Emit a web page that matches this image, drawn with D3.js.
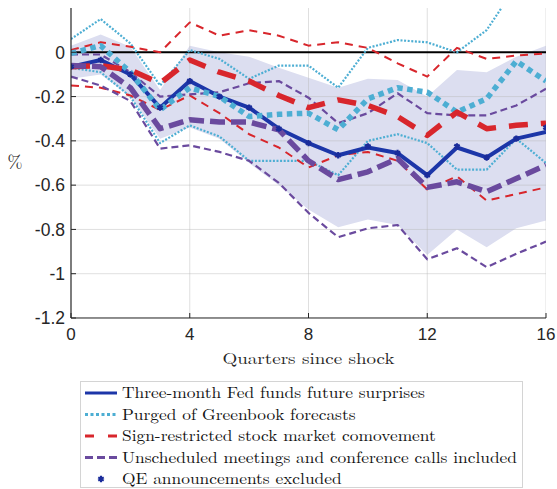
<!DOCTYPE html>
<html>
<head>
<meta charset="utf-8">
<script src="https://cdn.jsdelivr.net/npm/d3@7"></script>
<style>
  body { margin: 0; background: #fff; }
  svg { display: block; }
</style>
</head>
<body>
<svg id="chart"></svg>
<script>
const width = 557;
const height = 489;

// quarters since shock
const quarters = d3.range(0, 17);

// baseline: three-month Fed funds future surprises, with its band
const baseline = [-0.065, -0.035, -0.10, -0.25, -0.13, -0.20, -0.25, -0.345, -0.41, -0.465, -0.43, -0.455, -0.555, -0.43, -0.475, -0.39, -0.36];
const bandUpper = [0.03, 0.08, 0.025, -0.17, 0.03, 0.0, -0.02, -0.07, -0.115, -0.16, -0.12, -0.125, -0.2, -0.08, -0.09, -0.02, 0.03];
const bandLower = [-0.12, -0.1, -0.2, -0.39, -0.34, -0.39, -0.5, -0.6, -0.71, -0.79, -0.755, -0.78, -0.915, -0.8, -0.88, -0.795, -0.76];

// QE announcements excluded (markers)
const qeExcluded = [-0.065, -0.035, -0.10, -0.25, -0.13, -0.20, -0.25, -0.345, -0.41, -0.465, -0.425, -0.455, -0.555, -0.425, -0.475, -0.39, -0.34];

// purged of Greenbook forecasts
const purgedMid = [-0.005, 0.03, -0.09, -0.26, -0.16, -0.2, -0.29, -0.28, -0.275, -0.35, -0.21, -0.16, -0.18, -0.27, -0.21, -0.04, -0.13];
const purgedUp = [0.06, 0.15, 0.04, -0.15, 0.01, -0.03, -0.12, -0.06, -0.06, -0.16, 0.02, 0.055, 0.045, 0.0, 0.1, 0.3, 0.42];
const purgedLo = [-0.07, -0.09, -0.2, -0.41, -0.33, -0.38, -0.49, -0.49, -0.49, -0.555, -0.40, -0.37, -0.41, -0.53, -0.53, -0.39, -0.50];

// sign-restricted stock market comovement
const signMid = [-0.065, -0.06, -0.08, -0.14, -0.035, -0.09, -0.13, -0.195, -0.25, -0.215, -0.24, -0.29, -0.375, -0.27, -0.345, -0.33, -0.32];
const signUp = [0.01, 0.045, 0.025, 0.0, 0.135, 0.075, 0.1, 0.075, 0.03, 0.045, 0.02, -0.05, -0.11, 0.02, -0.03, -0.015, -0.005];
const signLo = [-0.15, -0.16, -0.195, -0.26, -0.195, -0.275, -0.37, -0.43, -0.52, -0.465, -0.45, -0.49, -0.62, -0.56, -0.67, -0.64, -0.61];

// unscheduled meetings and conference calls included
const unschedMid = [-0.06, -0.065, -0.16, -0.345, -0.305, -0.315, -0.315, -0.35, -0.49, -0.575, -0.54, -0.48, -0.61, -0.585, -0.63, -0.57, -0.51];
const unschedUp = [-0.01, -0.01, -0.09, -0.2, -0.19, -0.18, -0.14, -0.13, -0.205, -0.32, -0.275, -0.185, -0.275, -0.285, -0.285, -0.24, -0.165];
const unschedLo = [-0.11, -0.15, -0.22, -0.435, -0.42, -0.45, -0.49, -0.59, -0.725, -0.835, -0.795, -0.78, -0.935, -0.885, -0.97, -0.91, -0.855];

const xTicks = [0, 4, 8, 12, 16];
const yTicks = [0, -0.2, -0.4, -0.6, -0.8, -1, -1.2];

const legendLabels = [
  "Three-month Fed funds future surprises",
  "Purged of Greenbook forecasts",
  "Sign-restricted stock market comovement",
  "Unscheduled meetings and conference calls included",
  "QE announcements excluded"
];

const margin = {top: 8, left: 71, right: 11, bottom: 171};
const plotW = width - margin.left - margin.right;
const plotH = height - margin.top - margin.bottom;

const blue = "#1c36a8";
const lightBlue = "#4daed3";
const red = "#d8262c";
const purple = "#6a4a9e";

let svg = d3.select("#chart").attr("width", width).attr("height", height);

let x = d3.scaleLinear().domain([0, 16]).range([margin.left, margin.left + plotW]);
let y = d3.scaleLinear().domain([-1.2, 0.2]).range([margin.top + plotH, margin.top]);

svg.append("defs").append("clipPath").attr("id", "plotclip")
  .append("rect")
  .attr("x", margin.left).attr("y", margin.top)
  .attr("width", plotW).attr("height", plotH);

let plot = svg.append("g").attr("clip-path", "url(#plotclip)");

// shaded band
let area = d3.area()
  .x((d, i) => x(quarters[i]))
  .y0((d, i) => y(bandLower[i]))
  .y1((d, i) => y(bandUpper[i]));

plot.append("path")
  .datum(bandUpper)
  .attr("d", area)
  .attr("fill", "#dcdef0");

// grid lines
plot.append("g")
  .selectAll("line")
  .data(yTicks.filter(d => d !== 0))
  .enter()
  .append("line")
  .attr("x1", margin.left).attr("x2", margin.left + plotW)
  .attr("y1", d => y(d)).attr("y2", d => y(d))
  .attr("stroke", "#b8b8b8").attr("stroke-opacity", 0.45).attr("stroke-width", 1);

plot.append("g")
  .selectAll("line")
  .data(xTicks.filter(d => d !== 0))
  .enter()
  .append("line")
  .attr("x1", d => x(d)).attr("x2", d => x(d))
  .attr("y1", margin.top).attr("y2", margin.top + plotH)
  .attr("stroke", "#b8b8b8").attr("stroke-opacity", 0.45).attr("stroke-width", 1);

// zero line
plot.append("line")
  .attr("x1", margin.left).attr("x2", margin.left + plotW)
  .attr("y1", y(0)).attr("y2", y(0))
  .attr("stroke", "#000").attr("stroke-width", 2);

let line = d3.line().x((d, i) => x(quarters[i])).y(d => y(d));

function drawLine(values, color, w, dash) {
  plot.append("path")
    .datum(values)
    .attr("d", line)
    .attr("fill", "none")
    .attr("stroke", color)
    .attr("stroke-width", w)
    .attr("stroke-dasharray", dash)
    .attr("stroke-linejoin", "round");
}

// thin bounds of the alternative specifications
drawLine(purgedUp, lightBlue, 2.2, "2,1.6");
drawLine(purgedLo, lightBlue, 2.2, "2,1.6");
drawLine(signUp, red, 2, "8,6");
drawLine(signLo, red, 2, "8,6");
drawLine(unschedUp, purple, 2.2, "7,4");
drawLine(unschedLo, purple, 2.2, "7,4");

// baseline
drawLine(baseline, blue, 4, null);

// thick point estimates
drawLine(purgedMid, lightBlue, 5.5, "5.5,4.5");
drawLine(signMid, red, 5.5, "19,13");
drawLine(unschedMid, purple, 5.5, "15,6");

// QE excluded markers
plot.append("g")
  .selectAll("path")
  .data(qeExcluded)
  .enter()
  .append("path")
  .attr("transform", (d, i) => "translate(" + x(quarters[i]) + "," + y(d) + ")")
  .attr("d", d3.symbol().type(d3.symbolAsterisk).size(28))
  .attr("stroke", "#1a2c9a")
  .attr("stroke-width", 2.2)
  .attr("fill", "none");

// axes
let axisColor = "#262626";
svg.append("line")
  .attr("x1", margin.left).attr("x2", margin.left)
  .attr("y1", margin.top).attr("y2", margin.top + plotH)
  .attr("stroke", axisColor).attr("stroke-width", 1.2);
svg.append("line")
  .attr("x1", margin.left).attr("x2", margin.left + plotW)
  .attr("y1", margin.top + plotH).attr("y2", margin.top + plotH)
  .attr("stroke", axisColor).attr("stroke-width", 1.2);

// tick marks
svg.append("g").selectAll("line")
  .data(yTicks)
  .enter().append("line")
  .attr("x1", margin.left).attr("x2", margin.left + 5)
  .attr("y1", d => y(d)).attr("y2", d => y(d))
  .attr("stroke", axisColor).attr("stroke-width", 1);
svg.append("g").selectAll("line")
  .data(xTicks)
  .enter().append("line")
  .attr("x1", d => x(d)).attr("x2", d => x(d))
  .attr("y1", margin.top + plotH).attr("y2", margin.top + plotH - 5)
  .attr("stroke", axisColor).attr("stroke-width", 1);

// tick labels
svg.append("g").selectAll("text")
  .data(yTicks)
  .enter().append("text")
  .attr("x", margin.left - 6)
  .attr("y", d => y(d))
  .attr("dy", "0.36em")
  .attr("text-anchor", "end")
  .attr("font-family", "Liberation Sans, Arial, sans-serif")
  .attr("font-size", 17.5)
  .attr("fill", axisColor)
  .text(d => d3.format("")(d).replace("−", "-"));

svg.append("g").selectAll("text")
  .data(xTicks)
  .enter().append("text")
  .attr("x", d => x(d))
  .attr("y", margin.top + plotH + 22)
  .attr("text-anchor", "middle")
  .attr("font-family", "Liberation Sans, Arial, sans-serif")
  .attr("font-size", 17)
  .attr("fill", axisColor)
  .text(d => d);

// axis titles (serif, like LaTeX)
let serif = "Latin Modern Roman, Liberation Serif, DejaVu Serif, serif";
svg.append("text")
  .attr("x", x(8))
  .attr("y", margin.top + plotH + 46)
  .attr("text-anchor", "middle")
  .attr("font-family", serif)
  .attr("font-size", 16)
  .attr("fill", axisColor)
  .attr("textLength", 172)
  .attr("lengthAdjust", "spacingAndGlyphs")
  .text("Quarters since shock");

svg.append("text")
  .attr("x", 15)
  .attr("y", 168)
  .attr("text-anchor", "middle")
  .attr("font-family", serif)
  .attr("font-size", 18)
  .attr("fill", axisColor)
  .text("%");

// legend
let legend = svg.append("g");
legend.append("rect")
  .attr("x", 80.5).attr("y", 381.5)
  .attr("width", 442).attr("height", 106)
  .attr("fill", "#fff")
  .attr("stroke", "#d4d4d4").attr("stroke-width", 1);

const legendRowY = [393, 414.5, 436, 457.5, 479];
const legendStyles = [
  {color: blue, w: 3, dash: null},
  {color: lightBlue, w: 3, dash: "3,2.5"},
  {color: red, w: 3, dash: "9,14"},
  {color: purple, w: 3, dash: "8,4"},
  null
];

legendLabels.forEach(function(label, i) {
  let ly = legendRowY[i];
  let st = legendStyles[i];
  if (st) {
    legend.append("line")
      .attr("x1", 85).attr("x2", 117)
      .attr("y1", ly).attr("y2", ly)
      .attr("stroke", st.color)
      .attr("stroke-width", st.w)
      .attr("stroke-dasharray", st.dash);
  } else {
    legend.append("path")
      .attr("transform", "translate(101," + ly + ")")
      .attr("d", d3.symbol().type(d3.symbolAsterisk).size(28))
      .attr("stroke", "#1a2c9a")
      .attr("stroke-width", 2.2)
      .attr("fill", "none");
  }
  legend.append("text")
    .attr("class", "legtext")
    .attr("x", 122)
    .attr("y", ly)
    .attr("dy", "0.33em")
    .attr("font-family", serif)
    .attr("font-size", 16)
    .attr("fill", "#111")
    .text(label);
});

// stretch legend text so the longest row spans like the reference
let legTexts = legend.selectAll(".legtext");
let longest = legTexts.nodes()[3].getComputedTextLength();
let k = 395 / longest;
legTexts.each(function() {
  let len = this.getComputedTextLength();
  d3.select(this).attr("textLength", len * k).attr("lengthAdjust", "spacingAndGlyphs");
});
</script>
</body>
</html>
